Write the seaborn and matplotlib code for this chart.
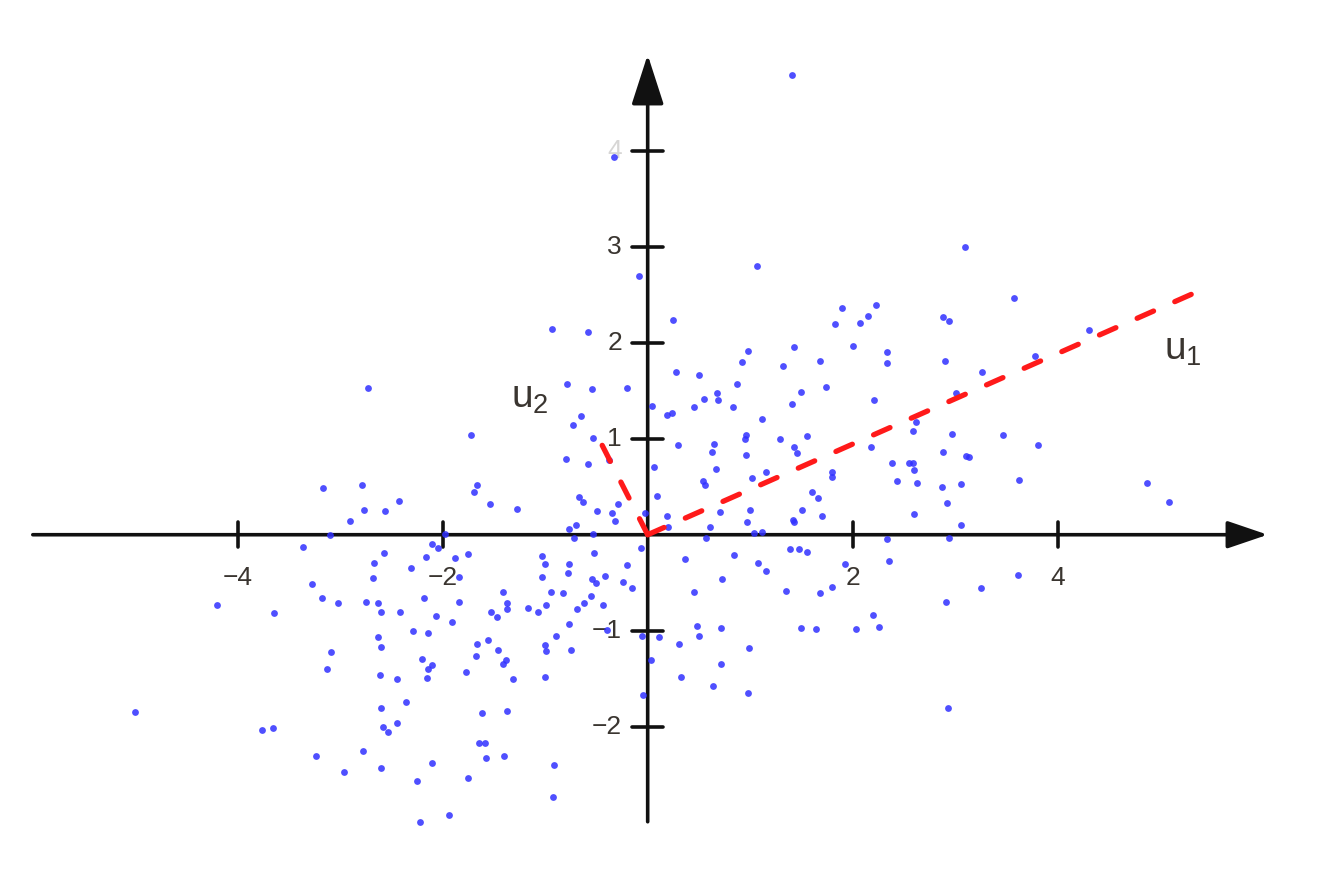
import matplotlib
matplotlib.use('Agg')
import matplotlib.pyplot as plt
import seaborn as sns
import pandas as pd

# data points, grouped by region
top_left = [(-2.73, 1.53), (-3.17, 0.49), (-2.79, 0.52), (-2.77, 0.26), (-2.90, 0.14), (-3.10, 0.00),
            (-0.93, 2.14), (-0.58, 2.11), (-0.79, 1.57), (-0.54, 1.52), (-0.20, 1.53), (-0.65, 1.24),
            (-0.73, 1.14), (-1.72, 1.04), (-0.53, 1.01), (-0.80, 0.79), (-0.58, 0.74), (-0.38, 0.78),
            (-1.67, 0.52), (-1.69, 0.45), (-2.43, 0.35), (-2.56, 0.25), (-1.54, 0.32), (-1.28, 0.27),
            (-0.67, 0.39), (-0.63, 0.34), (-0.49, 0.25), (-0.35, 0.23), (-0.29, 0.32), (-0.32, 0.14),
            (-0.70, 0.10), (-0.77, 0.06), (-0.72, -0.03), (-0.53, 0.01), (-1.98, 0.01), (-0.08, 2.69),
            (-0.33, 3.93)]

top_right = [(1.07, 2.80), (0.25, 2.24), (1.90, 2.36), (2.23, 2.39), (2.15, 2.28), (2.07, 2.21),
             (1.83, 2.20), (2.00, 1.97), (1.43, 1.96), (0.98, 1.91), (0.92, 1.80), (1.32, 1.76),
             (1.68, 1.81), (2.34, 1.90), (2.34, 1.79), (0.28, 1.69), (0.50, 1.66), (0.87, 1.57),
             (1.74, 1.54), (1.50, 1.49), (0.68, 1.48), (0.69, 1.40), (0.55, 1.41), (0.45, 1.33),
             (0.83, 1.33), (1.41, 1.36), (2.21, 1.40), (0.04, 1.34), (0.19, 1.25), (0.24, 1.27),
             (1.12, 1.21), (0.96, 1.04), (0.95, 1.00), (1.29, 1.00), (1.55, 1.03), (0.30, 0.93),
             (0.65, 0.94), (0.63, 0.86), (1.43, 0.91), (1.46, 0.85), (0.96, 0.83), (2.18, 0.91),
             (0.06, 0.71), (0.67, 0.68), (1.15, 0.65), (1.80, 0.65), (1.80, 0.60), (2.38, 0.75),
             (2.55, 0.75), (0.54, 0.56), (0.56, 0.52), (1.02, 0.59), (2.43, 0.56), (1.60, 0.44),
             (1.66, 0.38), (0.09, 0.40), (0.71, 0.24), (1.00, 0.26), (1.51, 0.26), (1.70, 0.19),
             (0.19, 0.19), (-0.03, 0.23), (0.97, 0.13), (1.42, 0.15), (1.43, 0.13), (0.20, 0.08),
             (0.61, 0.08), (1.04, 0.02), (1.12, 0.03), (2.34, -0.04), (0.57, -0.03),
             (3.10, 3.00), (3.57, 2.47), (2.88, 2.27), (2.94, 2.23), (4.31, 2.13), (2.90, 1.81),
             (3.78, 1.86), (3.26, 1.69), (3.01, 1.48), (2.62, 1.17), (2.59, 1.08), (2.97, 1.05),
             (3.47, 1.04), (3.81, 0.93), (2.88, 0.86), (3.11, 0.82), (3.14, 0.81), (2.59, 0.75),
             (2.60, 0.67), (2.63, 0.54), (2.87, 0.50), (3.06, 0.53), (3.62, 0.57), (4.87, 0.54),
             (5.09, 0.34), (2.92, 0.33), (2.60, 0.22), (3.06, 0.10), (2.94, -0.03), (1.41, 4.79)]

bottom_left = [(-3.36, -0.13), (-3.28, -0.51), (-3.18, -0.66), (-3.02, -0.71), (-2.75, -0.70),
               (-4.20, -0.73), (-3.65, -0.82), (-3.09, -1.22), (-3.13, -1.40), (-5.00, -1.85),
               (-3.76, -2.03), (-3.66, -2.01), (-2.78, -2.25), (-3.24, -2.31), (-2.96, -2.47),
               (-2.10, -0.10), (-2.05, -0.14), (-2.57, -0.19), (-2.16, -0.23), (-1.88, -0.24),
               (-1.75, -0.20), (-2.67, -0.29), (-2.68, -0.45), (-2.31, -0.35), (-1.84, -0.44),
               (-1.03, -0.22), (-1.00, -0.30), (-0.77, -0.31), (-0.78, -0.40), (-1.03, -0.44),
               (-0.52, -0.19), (-0.20, -0.32), (-0.07, -0.14), (-0.54, -0.46), (-0.50, -0.50),
               (-0.42, -0.43), (-0.24, -0.49), (-0.15, -0.55), (-0.94, -0.60), (-0.83, -0.61),
               (-1.41, -0.60), (-2.18, -0.66), (-1.84, -0.70), (-2.63, -0.71), (-2.60, -0.80),
               (-2.42, -0.81), (-1.37, -0.71), (-1.37, -0.77), (-1.17, -0.76), (-1.07, -0.80),
               (-0.99, -0.73), (-0.55, -0.64), (-0.62, -0.71), (-0.69, -0.77), (-0.44, -0.73),
               (-1.53, -0.80), (-1.47, -0.86), (-2.07, -0.85), (-1.91, -0.91), (-0.77, -0.93),
               (-2.29, -1.00), (-2.14, -1.02), (-2.63, -1.07), (-2.60, -1.17), (-1.67, -1.14),
               (-1.56, -1.10), (-1.46, -1.20), (-1.00, -1.15), (-0.99, -1.21), (-0.89, -1.06),
               (-0.75, -1.20), (-0.40, -0.99), (-0.06, -1.06), (-2.20, -1.29), (-2.10, -1.36),
               (-2.14, -1.40), (-1.68, -1.26), (-1.41, -1.35), (-1.38, -1.31), (-1.77, -1.43),
               (-2.61, -1.46), (-2.45, -1.50), (-2.15, -1.49), (-1.31, -1.50), (-1.00, -1.48),
               (-2.60, -1.80), (-2.36, -1.74), (-2.58, -2.00), (-2.53, -2.05), (-2.45, -1.96),
               (-1.62, -1.86), (-1.37, -1.84), (-0.05, -1.67), (-1.65, -2.17), (-1.59, -2.17),
               (-1.58, -2.33), (-1.40, -2.30), (-0.91, -2.40), (-2.60, -2.43), (-2.10, -2.38),
               (-2.25, -2.57), (-1.75, -2.53), (-0.92, -2.73), (-2.22, -2.99), (-1.94, -2.92)]

bottom_right = [(0.36, -0.25), (0.84, -0.21), (1.39, -0.15), (1.48, -0.15), (1.55, -0.18),
                (1.08, -0.29), (1.15, -0.38), (0.73, -0.46), (1.93, -0.31), (2.35, -0.27),
                (0.45, -0.60), (1.35, -0.59), (1.68, -0.61), (1.80, -0.54), (0.48, -0.95),
                (0.72, -0.97), (0.50, -1.05), (1.50, -0.97), (1.64, -0.98), (2.03, -0.98),
                (2.20, -0.84), (2.26, -0.96), (0.11, -1.07), (0.31, -1.14), (0.99, -1.18),
                (0.03, -1.30), (0.72, -1.35), (0.33, -1.48), (0.64, -1.58), (0.98, -1.65),
                (3.61, -0.42), (3.25, -0.56), (2.91, -0.70), (2.93, -1.81)]

# principal directions
u1 = (5.36, 2.53)
u2 = (-0.51, 1.07)

x_ticks = [-4, -2, 2, 4]
x_tick_labels = ['\u22124', '\u22122', '2', '4']
y_ticks = [-2, -1, 1, 2, 3, 4]
y_tick_labels = ['\u22122', '\u22121', '1', '2', '3', '4']

df = pd.DataFrame(top_left + top_right + bottom_left + bottom_right, columns=['x', 'y'])

sns.set_style('white')
plt.rcParams['font.family'] = ['Liberation Sans', 'DejaVu Sans']
plt.rcParams['mathtext.fontset'] = 'custom'
plt.rcParams['mathtext.rm'] = 'Liberation Sans'
plt.rcParams['mathtext.it'] = 'Liberation Sans'
plt.rcParams['mathtext.default'] = 'regular'

fig = plt.figure(figsize=(13.22, 8.88), dpi=100)
ax = fig.add_axes([0, 0, 1, 1])
ax.set_xlim(-6.32, 6.58)
ax.set_ylim(-3.68, 5.57)
ax.axis('off')

# axes with arrow heads
ax.annotate('', xy=(6.05, 0), xytext=(-6.0, 0),
            arrowprops=dict(arrowstyle='-|>,head_length=0.5,head_width=0.17', lw=2.6,
                            color='#111111', mutation_scale=50, shrinkA=0, shrinkB=0), zorder=1)
ax.annotate('', xy=(0, 5.0), xytext=(0, -2.99),
            arrowprops=dict(arrowstyle='-|>,head_length=0.62,head_width=0.2', lw=2.6,
                            color='#111111', mutation_scale=50, shrinkA=0, shrinkB=0), zorder=1)

for t, lab in zip(x_ticks, x_tick_labels):
    ax.plot([t, t], [-0.13, 0.13], color='#111111', lw=2.6, zorder=1)
    ax.text(t, -0.45, lab, ha='center', va='center', fontsize=19, color='#3a3530')

for t, lab in zip(y_ticks, y_tick_labels):
    ax.plot([-0.15, 0.15], [t, t], color='#111111', lw=2.6, zorder=1)
    ax.text(-0.25, t, lab, ha='right', va='center', fontsize=19,
            color='#3a3530', alpha=0.2 if t == 4 else 1.0)

sns.scatterplot(data=df, x='x', y='y', ax=ax, color='#3030ff', s=24,
                linewidth=0, alpha=0.85, zorder=3)

for vec in (u1, u2):
    ax.plot([0, vec[0]], [0, vec[1]], color='#ff1a1a', lw=3.8, ls=(0, (3.4, 4.4)),
            dash_capstyle='round', zorder=4)

ax.text(5.04, 1.82, 'u$_1$', ha='left', va='baseline', fontsize=28, color='#3a3530')
ax.text(-1.33, 1.32, 'u$_2$', ha='left', va='baseline', fontsize=28, color='#3a3530')

fig.savefig('out.png', dpi=100)
